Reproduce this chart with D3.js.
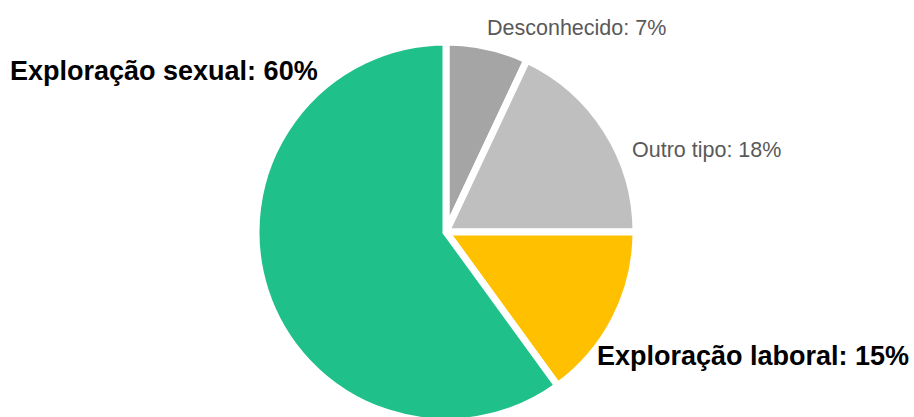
<!DOCTYPE html>
<html>
<head>
<meta charset="utf-8">
<script src="https://cdn.jsdelivr.net/npm/d3@7"></script>
<style>
  html, body { margin: 0; padding: 0; background: #fff; }
  svg { display: block; font-family: "Liberation Sans", Arial, sans-serif; }
</style>
</head>
<body>
<div id="chart"></div>
<script>
// Data, clockwise from 12 o'clock
const categories = ["Desconhecido", "Outro tipo", "Exploração laboral", "Exploração sexual"];
const values = [7, 18, 15, 60];
const colors = ["#a5a5a5", "#bfbfbf", "#ffc000", "#20c08a"];
const emphasis = [false, false, true, true];

const width = 914, height = 417;
const cx = 446, cy = 232, radius = 190;

// label placement (text start x, baseline y)
const labelPos = [[487, 35], [632, 157], [597, 365], [10, 80]];

const svg = d3.select("#chart")
    .append("svg")
    .attr("width", width)
    .attr("height", height);

const pie = d3.pie().sort(null).value(d => d.value);
const arc = d3.arc().innerRadius(0).outerRadius(radius);

const rows = categories.map((c, i) => ({ name: c, value: values[i], color: colors[i], bold: emphasis[i] }));

const g = svg.append("g").attr("transform", `translate(${cx},${cy})`);

g.selectAll("path")
    .data(pie(rows))
    .enter()
    .append("path")
    .attr("d", arc)
    .attr("fill", d => d.data.color)
    .attr("stroke", "#fff")
    .attr("stroke-width", 7)
    .attr("stroke-linejoin", "miter");

svg.selectAll(".lbl")
    .data(rows)
    .enter()
    .append("text")
    .attr("class", "lbl")
    .attr("x", (d, i) => labelPos[i][0])
    .attr("y", (d, i) => labelPos[i][1])
    .attr("font-size", d => d.bold ? 27 : 21.5)
    .attr("font-weight", d => d.bold ? "bold" : "normal")
    .attr("fill", d => d.bold ? "#000" : "#595959")
    .text(d => `${d.name}: ${d.value}%`);
</script>
</body>
</html>
